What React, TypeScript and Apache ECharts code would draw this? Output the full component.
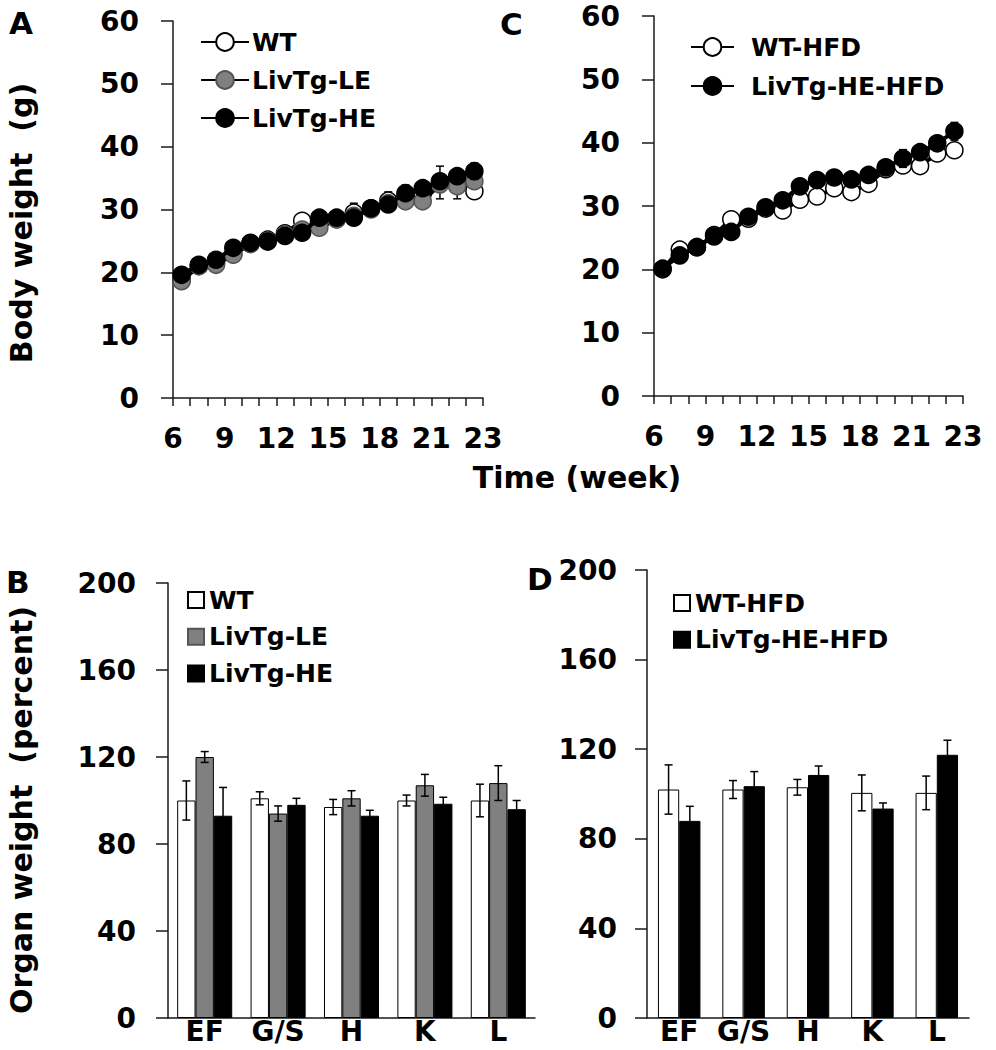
import React, { useEffect, useRef } from "react";
import * as echarts from "echarts";

// ---------- data ----------
const weeks = [6, 7, 8, 9, 10, 11, 12, 13, 14, 15, 16, 17, 18, 19, 20, 21, 22, 23];
// tick labels of the time axis (Excel-style: last label "23" sits at the right end)
const xTickValues = [6, 9, 12, 15, 18, 21, 24];
const xTickTexts = ["6", "9", "12", "15", "18", "21", "23"];

// Panel A – body weight (g)
const wtA = [18.8, 21.0, 21.4, 22.9, 24.6, 25.2, 26.2, 28.2, 27.8, 28.5, 29.5, 30.2, 31.4, 32.2, 32.5, 34.3, 34.0, 32.9];
const wtAErr = [0.5, 0.5, 0.5, 0.6, 0.5, 0.6, 0.6, 1.0, 0.8, 0.9, 1.5, 0.8, 1.4, 1.7, 1.0, 2.6, 1.2, 1.0];
const leA = [18.6, 21.0, 21.2, 22.8, 24.5, 25.0, 26.0, 26.8, 27.1, 28.4, 29.0, 30.0, 31.0, 31.3, 31.3, 34.0, 33.7, 34.5];
const leAErr = [0.5, 0.5, 0.5, 0.5, 0.5, 0.5, 0.6, 0.6, 0.8, 1.0, 0.9, 0.8, 1.0, 1.1, 1.0, 1.2, 2.0, 1.0];
const heA = [19.6, 21.2, 22.0, 23.9, 24.7, 24.9, 25.8, 26.3, 28.7, 28.7, 28.7, 30.2, 30.8, 32.6, 33.4, 34.5, 35.3, 36.1];
const heAErr = [0.5, 0.5, 0.5, 0.5, 0.5, 0.5, 0.6, 0.6, 0.7, 0.8, 0.8, 0.8, 0.9, 1.0, 1.0, 1.1, 1.2, 1.3];

// Panel C – body weight (g), high-fat diet
const wtC = [20.0, 23.1, 23.5, 25.4, 27.9, 28.0, 29.6, 29.3, 31.0, 31.5, 32.8, 32.2, 33.5, 35.8, 36.4, 36.3, 38.3, 38.8];
const wtCErr = [0.5, 0.6, 0.5, 0.6, 0.6, 0.6, 0.7, 0.7, 0.8, 0.8, 0.9, 0.8, 0.9, 1.0, 1.0, 1.0, 1.0, 1.1];
const heC = [20.1, 22.2, 23.5, 25.2, 25.9, 28.3, 29.8, 30.9, 33.1, 34.1, 34.5, 34.2, 34.9, 36.1, 37.5, 38.5, 39.9, 41.8];
const heCErr = [0.5, 0.5, 0.5, 0.6, 0.6, 0.6, 0.7, 0.7, 0.8, 0.8, 0.9, 0.9, 0.9, 1.0, 1.4, 1.1, 1.2, 1.4];

// Panels B / D – organ weight (percent)
const organs = ["EF", "G/S", "H", "K", "L"];
const wtB = [100, 101, 97, 100, 100];
const wtBErr = [9, 3, 3.5, 2.5, 7.5];
const leB = [120, 94, 101, 107, 108];
const leBErr = [2.5, 3.5, 3.5, 5, 8];
const heB = [93, 98, 93, 98.5, 96];
const heBErr = [13, 3, 2.5, 3, 4];

const wtD = [102, 102, 103, 100.5, 100.5];
const wtDErr = [11, 4, 3.5, 8, 7.5];
const heD = [88, 103.5, 108.5, 93.5, 117.5];
const heDErr = [6.5, 6.5, 4, 2.5, 6.5];

// ---------- styles ----------
const FONT = "'DejaVu Sans', sans-serif";
const AX = "#1a1a1a";
const GRAY = "#808080";
const WEEK_MID = 0.5; // points are centred within their week interval

const txt = (size: number) => ({
  fontFamily: FONT,
  fontWeight: "bold" as const,
  fontSize: size,
  color: "#000",
});

const lineXAxis = (gridIndex: number) => ({
  type: "value",
  gridIndex,
  min: 6,
  max: 24,
  interval: 1,
  axisLine: { show: true, onZero: false, lineStyle: { color: AX, width: 1.5 } },
  axisTick: { show: true, length: 8, lineStyle: { color: AX, width: 1.5 } },
  splitLine: { show: false },
  axisLabel: {
    ...txt(28),
    margin: 26,
    formatter: (v: number) => {
      const k = xTickValues.indexOf(Math.round(v));
      return k >= 0 && Math.abs(v - Math.round(v)) < 1e-6 ? xTickTexts[k] : "";
    },
  },
});

const valueYAxis = (gridIndex: number, max: number, interval: number, margin: number) => ({
  type: "value",
  gridIndex,
  min: 0,
  max,
  interval,
  axisLine: { show: true, lineStyle: { color: AX, width: 1.5 } },
  axisTick: { show: true, length: 12, lineStyle: { color: AX, width: 1.5 } },
  splitLine: { show: false },
  axisLabel: { ...txt(28), margin },
});

const catXAxis = (gridIndex: number) => ({
  type: "category",
  gridIndex,
  data: organs,
  axisLine: { show: true, lineStyle: { color: AX, width: 1.5 } },
  axisTick: { show: false },
  axisLabel: { ...txt(28), margin: 2, lineHeight: 23, interval: 0 },
});

const lineSeries = (
  name: string,
  axis: number,
  vals: number[],
  fill: string,
  border: string,
  z: number
) => ({
  type: "line",
  name,
  xAxisIndex: axis,
  yAxisIndex: axis,
  data: weeks.map((w, i) => [w + WEEK_MID, vals[i]]),
  symbol: "circle",
  symbolSize: 17,
  lineStyle: { color: "#000", width: 4 },
  itemStyle: { color: fill, borderColor: border, borderWidth: 1.5 },
  z,
});

const lineErr = (axis: number, vals: number[], errs: number[], z: number) => ({
  type: "custom",
  xAxisIndex: axis,
  yAxisIndex: axis,
  silent: true,
  z,
  data: weeks.map((w, i) => [w + WEEK_MID, vals[i], errs[i]]),
  renderItem: (_p: any, api: any) => {
    const x = api.value(0);
    const y = api.value(1);
    const e = api.value(2);
    const hi = api.coord([x, y + e]);
    const lo = api.coord([x, y - e]);
    const c = 4;
    const st = { stroke: "#000", lineWidth: 1.5 };
    return {
      type: "group",
      children: [
        { type: "line", shape: { x1: hi[0], y1: hi[1], x2: lo[0], y2: lo[1] }, style: st },
        { type: "line", shape: { x1: hi[0] - c, y1: hi[1], x2: hi[0] + c, y2: hi[1] }, style: st },
        { type: "line", shape: { x1: lo[0] - c, y1: lo[1], x2: lo[0] + c, y2: lo[1] }, style: st },
      ],
    };
  },
});

const barSeries = (name: string, axis: number, vals: number[], fill: string, gap: string) => ({
  type: "bar",
  name,
  xAxisIndex: axis,
  yAxisIndex: axis,
  data: vals,
  barGap: "0%",
  barCategoryGap: gap,
  itemStyle: { color: fill, borderColor: "#000", borderWidth: 1 },
  z: 2,
});

const barErr = (axis: number, vals: number[], errs: number[], k: number, n: number, gap: number) => ({
  type: "custom",
  xAxisIndex: axis,
  yAxisIndex: axis,
  silent: true,
  z: 5,
  data: vals.map((v, i) => [i, v, errs[i]]),
  renderItem: (_p: any, api: any) => {
    const i = api.value(0);
    const v = api.value(1);
    const e = api.value(2);
    const band = api.size([1, 0])[0];
    const bw = (band * (1 - gap)) / n;
    const dx = (k - (n - 1) / 2) * bw;
    const hi = api.coord([i, v + e]);
    const lo = api.coord([i, v - e]);
    const x = hi[0] + dx;
    const c = 4;
    const st = { stroke: "#000", lineWidth: 1.5 };
    return {
      type: "group",
      children: [
        { type: "line", shape: { x1: x, y1: hi[1], x2: x, y2: lo[1] }, style: st },
        { type: "line", shape: { x1: x - c, y1: hi[1], x2: x + c, y2: hi[1] }, style: st },
        { type: "line", shape: { x1: x - c, y1: lo[1], x2: x + c, y2: lo[1] }, style: st },
      ],
    };
  },
});

const legendBase = {
  orient: "vertical",
  selectedMode: false,
  padding: 0,
};

const option: any = {
  animation: false,
  backgroundColor: "#fff",
  grid: [
    { left: 173, top: 21, width: 310, height: 377 }, // A
    { left: 654, top: 16, width: 309, height: 380 }, // C
    { left: 168, top: 583, width: 367, height: 435 }, // B
    { left: 647, top: 570, width: 322, height: 448 }, // D
  ],
  xAxis: [lineXAxis(0), lineXAxis(1), catXAxis(2), catXAxis(3)],
  yAxis: [
    valueYAxis(0, 60, 10, 34),
    valueYAxis(1, 60, 10, 34),
    valueYAxis(2, 200, 40, 32),
    valueYAxis(3, 200, 40, 30),
  ],
  legend: [
    {
      ...legendBase,
      data: ["WT", "LivTg-LE", "LivTg-HE"],
      left: 200,
      top: 29,
      itemWidth: 48,
      itemHeight: 22,
      itemGap: 12,
      textStyle: { ...txt(25), lineHeight: 26, padding: [0, 0, 0, -2] },
    },
    {
      ...legendBase,
      data: ["WT-HFD", "LivTg-HE-HFD"],
      left: 690,
      top: 34,
      itemWidth: 43,
      itemHeight: 22,
      itemGap: 13,
      textStyle: { ...txt(25), lineHeight: 26, padding: [0, 0, 0, 12] },
    },
    {
      ...legendBase,
      data: [
        { name: "WT", icon: "rect" },
        { name: "LivTg-LE", icon: "rect" },
        { name: "LivTg-HE", icon: "rect" },
      ],
      left: 187,
      top: 587,
      itemWidth: 16,
      itemHeight: 16,
      itemGap: 10.7,
      textStyle: { ...txt(25), lineHeight: 26 },
    },
    {
      ...legendBase,
      data: [
        { name: "WT-HFD", icon: "rect" },
        { name: "LivTg-HE-HFD", icon: "rect" },
      ],
      left: 673,
      top: 590,
      itemWidth: 16,
      itemHeight: 16,
      itemGap: 10.7,
      textStyle: { ...txt(25), lineHeight: 26 },
    },
  ],
  graphic: [
    { type: "text", left: 9, top: 7, style: { text: "A", font: `bold 31px ${FONT}`, fill: "#000" } },
    { type: "text", left: 500, top: 8, style: { text: "C", font: `bold 31px ${FONT}`, fill: "#000" } },
    { type: "text", left: 6, top: 566, style: { text: "B", font: `bold 31px ${FONT}`, fill: "#000" } },
    { type: "text", left: 527, top: 563, style: { text: "D", font: `bold 31px ${FONT}`, fill: "#000" } },
    {
      type: "text",
      x: 21,
      y: 223,
      rotation: Math.PI / 2,
      style: {
        text: "Body weight  (g)",
        font: `bold 30px ${FONT}`,
        fill: "#000",
        align: "center",
        verticalAlign: "middle",
      },
    },
    {
      type: "text",
      x: 577,
      y: 477,
      style: {
        text: "Time (week)",
        font: `bold 30px ${FONT}`,
        fill: "#000",
        align: "center",
        verticalAlign: "middle",
      },
    },
    {
      type: "text",
      x: 21,
      y: 810,
      rotation: Math.PI / 2,
      style: {
        text: "Organ weight  (percent)",
        font: `bold 30px ${FONT}`,
        fill: "#000",
        align: "center",
        verticalAlign: "middle",
      },
    },
  ],
  series: [
    // line charts first (so legend icons come from them)
    lineSeries("WT", 0, wtA, "#fff", "#000", 3),
    lineSeries("LivTg-LE", 0, leA, GRAY, "#555", 4),
    lineSeries("LivTg-HE", 0, heA, "#000", "#000", 5),
    lineSeries("WT-HFD", 1, wtC, "#fff", "#000", 3),
    lineSeries("LivTg-HE-HFD", 1, heC, "#000", "#000", 5),
    lineErr(0, wtA, wtAErr, 3),
    lineErr(0, leA, leAErr, 4),
    lineErr(0, heA, heAErr, 5),
    lineErr(1, wtC, wtCErr, 3),
    lineErr(1, heC, heCErr, 5),
    // bar charts
    barSeries("WT", 2, wtB, "#fff", "25%"),
    barSeries("LivTg-LE", 2, leB, GRAY, "25%"),
    barSeries("LivTg-HE", 2, heB, "#000", "25%"),
    barErr(2, wtB, wtBErr, 0, 3, 0.25),
    barErr(2, leB, leBErr, 1, 3, 0.25),
    barErr(2, heB, heBErr, 2, 3, 0.25),
    barSeries("WT-HFD", 3, wtD, "#fff", "34%"),
    barSeries("LivTg-HE-HFD", 3, heD, "#000", "34%"),
    barErr(3, wtD, wtDErr, 0, 2, 0.34),
    barErr(3, heD, heDErr, 1, 2, 0.34),
  ],
};

export default function App() {
  const ref = useRef<HTMLDivElement>(null);
  useEffect(() => {
    if (!ref.current) return;
    const chart = echarts.init(ref.current, null, { renderer: "svg" });
    chart.setOption(option);
    return () => chart.dispose();
  }, []);
  return (
    <div
      ref={ref}
      style={{ position: "absolute", left: 0, top: 0, width: 996, height: 1050, background: "#fff" }}
    />
  );
}
